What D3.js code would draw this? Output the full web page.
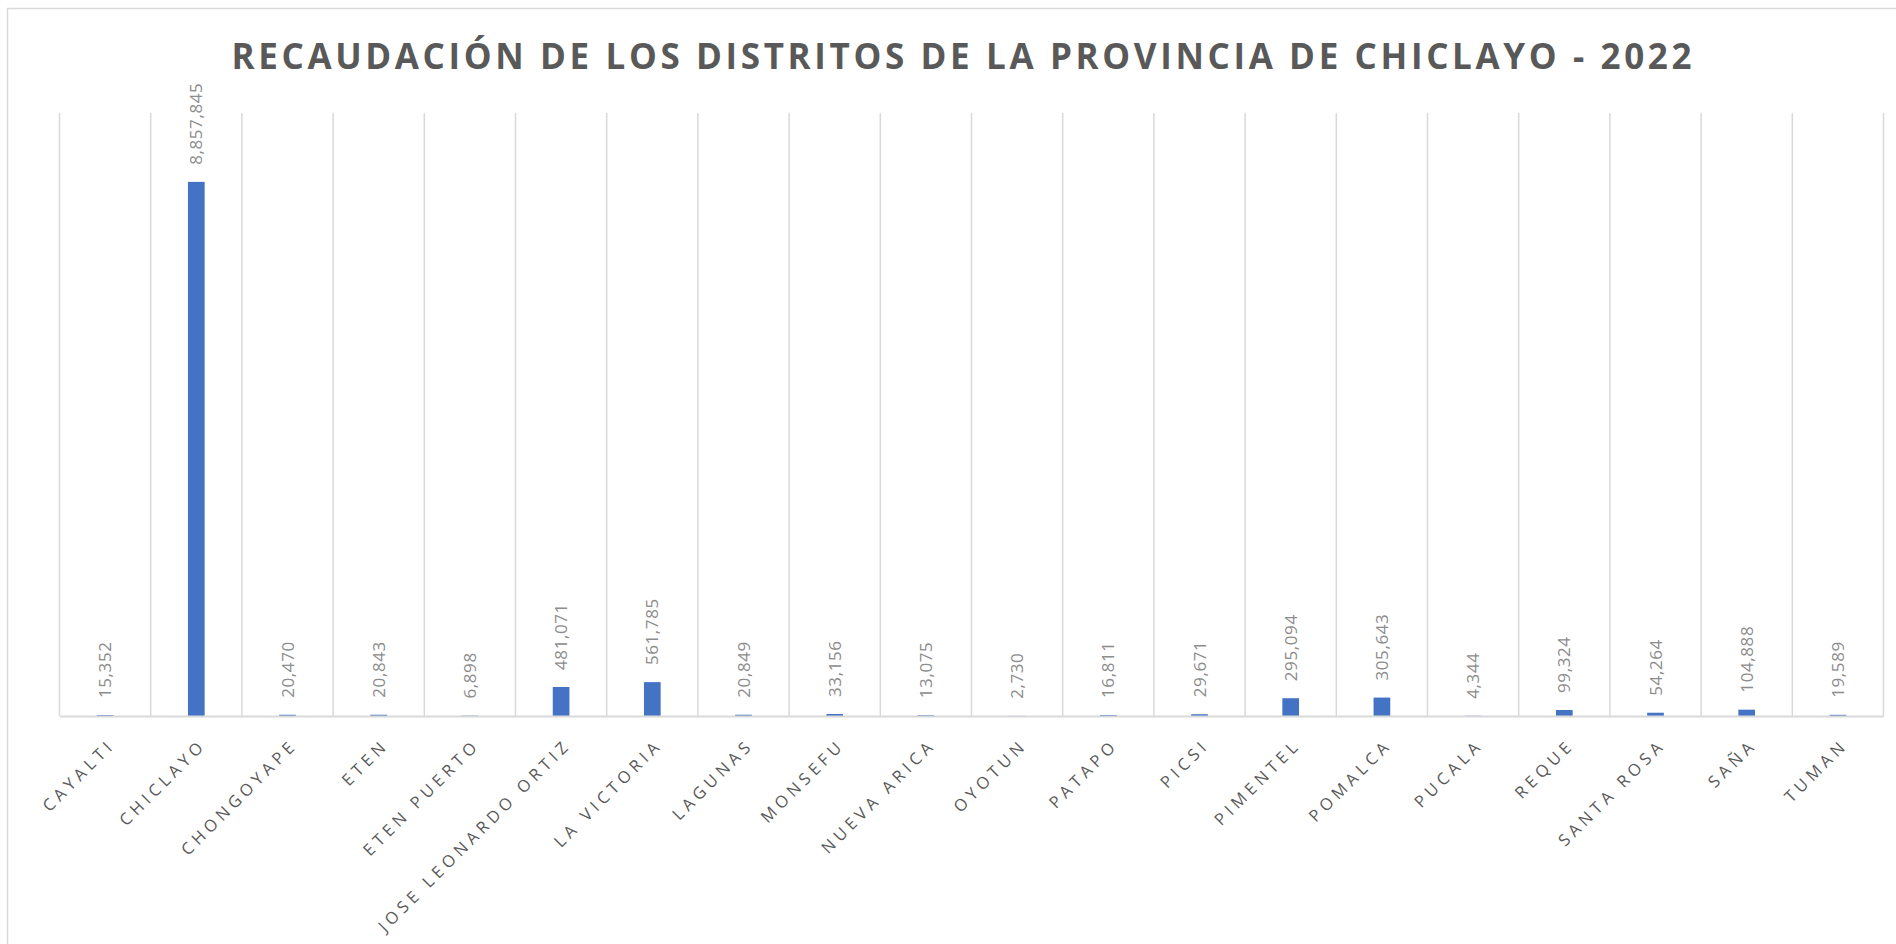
<!DOCTYPE html>
<html>
<head>
<meta charset="utf-8">
<script src="https://cdn.jsdelivr.net/npm/d3@7"></script>
<style>
  body { margin: 0; background: #fff; }
</style>
</head>
<body>
<div id="chart"></div>
<script>
// districts and 2022 collection
const districts = ["CAYALTI", "CHICLAYO", "CHONGOYAPE", "ETEN", "ETEN PUERTO", "JOSE LEONARDO ORTIZ",
  "LA VICTORIA", "LAGUNAS", "MONSEFU", "NUEVA ARICA", "OYOTUN", "PATAPO", "PICSI", "PIMENTEL",
  "POMALCA", "PUCALA", "REQUE", "SANTA ROSA", "SAÑA", "TUMAN"]
const recaudacion = [15352, 8857845, 20470, 20843, 6898, 481071, 561785, 20849, 33156, 13075,
  2730, 16811, 29671, 295094, 305643, 4344, 99324, 54264, 104888, 19589]
const yDomain = [0, 10000000]
const title = "RECAUDACIÓN DE LOS DISTRITOS DE LA PROVINCIA DE CHICLAYO - 2022"

function drawChart(){
  const width = 1896
  const height = 944
  const plot = {left: 59.5, right: 1883.5, top: 113, bottom: 716}

  const svg = d3.select("#chart")
    .append("svg")
      .attr("width", width)
      .attr("height", height)

  // chart frame
  svg.append("rect")
    .attr("x", 7.5).attr("y", 8.5)
    .attr("width", 1950).attr("height", 1000)
    .attr("fill", "none")
    .attr("stroke", "#d9d9d9")
    .attr("stroke-width", 1.5)

  svg.append("text")
    .attr("x", 231.5)
    .attr("y", 69)
    .attr("textLength", 1460)
    .attr("lengthAdjust", "spacing")
    .style("font-family", "'Open Sans', sans-serif")
    .style("font-weight", 700)
    .style("font-size", "35px")
    .style("fill", "#595959")
    .text(title)

  const xScale = d3.scaleBand()
    .domain(districts)
    .range([plot.left, plot.right])
    .paddingInner(0)
    .paddingOuter(0)

  const yScale = d3.scaleLinear()
    .domain(yDomain)
    .range([plot.bottom, plot.top])

  // vertical gridlines between categories
  const edges = districts.map(d => xScale(d)).concat([xScale(districts[districts.length - 1]) + xScale.bandwidth()])
  svg.append("g")
    .selectAll("line")
    .data(edges)
    .join("line")
      .attr("x1", d => d).attr("x2", d => d)
      .attr("y1", plot.top).attr("y2", plot.bottom)
      .attr("stroke", "#d9d9d9")
      .attr("stroke-width", 1.5)

  const data = districts.map((d, i) => ({name: d, value: recaudacion[i]}))
  const barW = xScale.bandwidth() * 0.183

  svg.append("g")
    .selectAll("rect")
    .data(data)
    .join("rect")
      .attr("x", d => xScale(d.name) + xScale.bandwidth() / 2 - barW / 2)
      .attr("y", d => yScale(d.value))
      .attr("width", barW)
      .attr("height", d => yScale(0) - yScale(d.value))
      .attr("fill", "#4472c4")

  // baseline axis
  svg.append("g")
    .attr("transform", `translate(0, ${plot.bottom})`)
    .call(d3.axisBottom(xScale).tickSize(0).tickFormat(""))
    .call(g => g.select(".domain").attr("stroke", "#d9d9d9").attr("stroke-width", 2))

  // value labels
  const fmt = d3.format(",")
  svg.append("g")
    .selectAll("text")
    .data(data)
    .join("text")
      .attr("transform", d => `translate(${xScale(d.name) + xScale.bandwidth() / 2}, ${yScale(d.value) - 17}) rotate(-90)`)
      .attr("dy", "0.36em")
      .style("font-family", "'Open Sans', sans-serif")
      .style("font-size", "17px")
      .style("letter-spacing", "0.6px")
      .style("fill", "#8c8c8c")
      .text(d => fmt(d.value))

  // category labels
  svg.append("g")
    .selectAll("text")
    .data(districts)
    .join("text")
      .attr("transform", d => `translate(${xScale(d) + xScale.bandwidth() / 2 + 11}, ${plot.bottom + 30}) rotate(-45)`)
      .attr("text-anchor", "end")
      .style("font-family", "'Open Sans', sans-serif")
      .style("font-size", "16.5px")
      .style("letter-spacing", "4.5px")
      .style("fill", "#595959")
      .text(d => d)
}

drawChart()
</script>
</body>
</html>
